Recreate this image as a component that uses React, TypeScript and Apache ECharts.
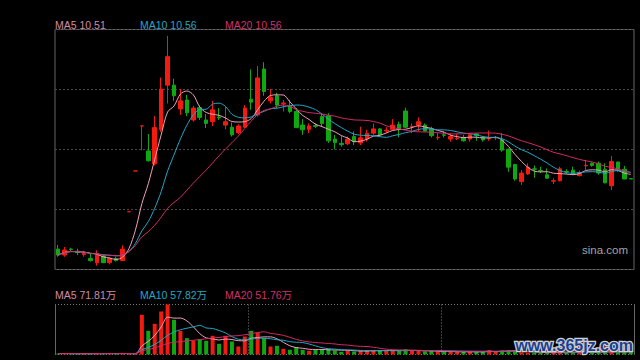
import React, { useEffect, useRef } from 'react';
import * as echarts from 'echarts';

// Daily prices (yuan)
const OPEN = [
  8.75, 8.61, 8.75, 8.70, 8.62, 8.53, 8.43, 8.59, 8.43, 8.53,
  8.48, 9.63, 10.59, 11.65, 11.06, 10.76, 11.56, 12.61, 12.61, 12.05,
  12.26, 11.79, 12.08, 11.79, 11.75, 11.86, 11.67, 11.62, 11.49, 11.62,
  12.28, 11.91, 12.99, 12.24, 12.36, 12.17, 12.12, 11.99, 11.67, 11.57,
  11.66, 11.87, 11.89, 11.34, 11.24, 11.23, 11.40, 11.25, 11.34, 11.48,
  11.58, 11.53, 11.57, 11.69, 12.00, 11.63, 11.67, 11.67, 11.57, 11.37,
  11.44, 11.34, 11.35, 11.38, 11.34, 11.46, 11.38, 11.35, 11.37, 11.32,
  11.10, 10.74, 10.34, 10.52, 10.64, 10.60, 10.50, 10.35, 10.36, 10.58,
  10.61, 10.48, 10.71, 10.77, 10.77, 10.63, 10.24, 10.80, 10.63, 10.41,
];
const CLOSE = [
  8.61, 8.73, 8.74, 8.67, 8.65, 8.48, 8.61, 8.43, 8.53, 8.48,
  8.75, 9.63, 10.59, 11.65, 10.83, 11.61, 12.52, 13.28, 12.36, 12.24,
  11.96, 12.07, 11.85, 11.71, 12.03, 11.84, 11.75, 11.44, 11.65, 12.07,
  12.21, 12.78, 12.46, 12.32, 12.14, 12.19, 11.99, 11.61, 11.56, 11.65,
  11.64, 11.71, 11.30, 11.26, 11.21, 11.34, 11.28, 11.37, 11.48, 11.58,
  11.44, 11.55, 11.67, 11.58, 11.62, 11.64, 11.75, 11.53, 11.42, 11.38,
  11.43, 11.40, 11.36, 11.30, 11.44, 11.42, 11.32, 11.36, 11.38, 11.08,
  10.68, 10.40, 10.54, 10.68, 10.63, 10.59, 10.42, 10.36, 10.64, 10.57,
  10.52, 10.55, 10.72, 10.72, 10.54, 10.31, 10.81, 10.63, 10.40, 10.40,
];
const HIGH = [
  8.85, 8.80, 8.78, 8.76, 8.71, 8.66, 8.72, 8.62, 8.56, 8.57,
  8.84, 9.63, 10.59, 11.65, 11.46, 11.88, 12.79, 13.77, 12.76, 12.52,
  12.38, 12.12, 12.13, 11.93, 12.24, 12.07, 12.10, 11.73, 11.69, 12.14,
  12.98, 13.06, 13.15, 12.52, 12.43, 12.26, 12.26, 12.07, 11.81, 11.71,
  11.71, 11.95, 11.95, 11.44, 11.41, 11.40, 11.52, 11.63, 11.56, 11.71,
  11.60, 11.62, 11.81, 11.75, 12.08, 11.71, 11.85, 11.71, 11.63, 11.49,
  11.52, 11.48, 11.46, 11.44, 11.48, 11.48, 11.41, 11.54, 11.41, 11.48,
  11.12, 10.76, 10.61, 10.77, 10.72, 10.69, 10.65, 10.42, 10.69, 10.63,
  10.69, 10.60, 10.85, 10.79, 10.81, 10.77, 10.94, 10.81, 10.71, 10.41,
];
const LOW = [
  8.57, 8.57, 8.71, 8.61, 8.57, 8.46, 8.36, 8.42, 8.39, 8.46,
  8.47, 9.63, 10.59, 11.08, 10.81, 10.72, 11.51, 12.18, 12.24, 11.91,
  11.88, 11.75, 11.79, 11.60, 11.65, 11.79, 11.57, 11.40, 11.46, 11.60,
  12.03, 11.87, 12.36, 12.18, 12.07, 11.99, 11.95, 11.60, 11.44, 11.48,
  11.60, 11.63, 11.25, 11.10, 11.16, 11.20, 11.20, 11.20, 11.28, 11.44,
  11.40, 11.49, 11.56, 11.38, 11.60, 11.48, 11.52, 11.52, 11.38, 11.32,
  11.38, 11.28, 11.32, 11.28, 11.28, 11.30, 11.28, 11.30, 11.32, 11.04,
  10.57, 10.36, 10.26, 10.50, 10.43, 10.54, 10.40, 10.28, 10.34, 10.52,
  10.50, 10.46, 10.61, 10.69, 10.50, 10.30, 10.14, 10.57, 10.40, 10.40,
];
// Daily volume, in 万 (10,000 shares)
const VOLUME = [
  18, 22, 15, 12, 14, 20, 26, 21, 16, 14,
  30, 8, 10, 794, 474, 614, 860, 1000, 694, 474,
  328, 280, 308, 274, 374, 214, 374, 260, 160, 360,
  474, 440, 328, 160, 174, 114, 94, 148, 94, 74,
  94, 94, 114, 80, 54, 74, 60, 80, 74, 80,
  80, 80, 90, 70, 100, 70, 70, 60, 70, 50,
  50, 60, 50, 50, 60, 50, 50, 90, 50, 80,
  80, 65, 45, 40, 38, 30, 42, 35, 45, 37,
  40, 38, 45, 42, 54.2, 70, 110, 60, 65, 54,
];
const DAYS = OPEN.map((_, i) => 'D' + (i + 1));

const PRICE_LEGEND = ['MA5 10.51', 'MA10 10.56', 'MA20 10.56'];
const VOLUME_LEGEND = ['MA5 71.81万', 'MA10 57.82万', 'MA20 51.76万'];
const MA_PERIODS = [5, 10, 20];

const MA_LINE_COLORS = ['#f0a2bd', '#1ea8c6', '#d42a68'];
const MA_TEXT_COLORS = ['#d48aa2', '#26a6c4', '#d42e6a'];
const UP = '#f51a0f';
const DOWN = '#10a810';

function movingAverage(values: number[], n: number): number[] {
  return values.map((_, i) => {
    const s = Math.max(0, i - n + 1);
    let sum = 0;
    for (let j = s; j <= i; j++) sum += values[j];
    return +(sum / (i - s + 1)).toFixed(3);
  });
}

function isUp(i: number): boolean {
  if (CLOSE[i] > OPEN[i]) return true;
  if (CLOSE[i] < OPEN[i]) return false;
  return i === 0 ? true : CLOSE[i] >= CLOSE[i - 1];
}

export default function App() {
  const ref = useRef<HTMLDivElement>(null);

  useEffect(() => {
    if (!ref.current) return;
    const chart = echarts.init(ref.current, undefined, { renderer: 'svg' });

    const candles = OPEN.map((o, i) => [o, CLOSE[i], LOW[i], HIGH[i]]);
    const volumes = VOLUME.map((v, i) => ({
      value: v,
      itemStyle: { color: isUp(i) ? UP : DOWN },
    }));

    const hidden = {
      axisLine: { show: false },
      axisTick: { show: false },
      axisLabel: { show: false },
    };

    const legendTexts: any[] = [];
    const xs = [55, 140, 225];
    PRICE_LEGEND.forEach((t, k) => {
      legendTexts.push({
        type: 'text',
        x: xs[k],
        y: 24.5,
        silent: true,
        style: {
          text: t,
          fill: MA_TEXT_COLORS[k],
          font: '10.5px Arial, "Liberation Sans", sans-serif',
          textVerticalAlign: 'middle',
        },
      });
    });
    VOLUME_LEGEND.forEach((t, k) => {
      legendTexts.push({
        type: 'text',
        x: xs[k],
        y: 294.5,
        silent: true,
        style: {
          text: t,
          fill: MA_TEXT_COLORS[k],
          font: '10.5px Arial, "Liberation Sans", "Noto Sans CJK SC", sans-serif',
          textVerticalAlign: 'middle',
        },
      });
    });
    legendTexts.push({
      type: 'text',
      x: 582,
      y: 249.5,
      silent: true,
      style: {
        text: 'sina.com',
        fill: '#a4a4a4',
        font: '11.5px Arial, "Liberation Sans", sans-serif',
        textVerticalAlign: 'middle',
      },
    });
    legendTexts.push({
      type: 'text',
      x: 633,
      y: 345,
      silent: true,
      z: 100,
      style: {
        text: 'www.365jz.com',
        fill: '#1d3f90',
        stroke: '#d0d0d0',
        lineWidth: 2.5,
        font: 'bold 16px Arial, "Liberation Sans", sans-serif',
        textAlign: 'right',
        textVerticalAlign: 'middle',
      },
    });

    const series: any[] = [
      {
        type: 'candlestick',
        xAxisIndex: 0,
        yAxisIndex: 0,
        data: candles,
        barWidth: 4,
        itemStyle: {
          color: UP,
          color0: DOWN,
          borderColor: UP,
          borderColor0: DOWN,
          borderWidth: 1,
        },
      },
      ...MA_PERIODS.map((n, k) => ({
        type: 'line',
        xAxisIndex: 0,
        yAxisIndex: 0,
        data: movingAverage(CLOSE, n),
        symbol: 'none',
        smooth: 0.3,
        lineStyle: { width: 1, color: MA_LINE_COLORS[k] },
        z: 3,
      })),
      {
        type: 'bar',
        xAxisIndex: 1,
        yAxisIndex: 2,
        data: volumes,
        barWidth: 4,
      },
      ...MA_PERIODS.map((n, k) => ({
        type: 'line',
        xAxisIndex: 1,
        yAxisIndex: 2,
        data: movingAverage(VOLUME, n),
        symbol: 'none',
        smooth: 0.3,
        lineStyle: { width: 1, color: MA_LINE_COLORS[k] },
        z: 3,
      })),
    ];

    chart.setOption({
      animation: false,
      backgroundColor: '#000',
      grid: [
        {
          left: 55, top: 29.5, width: 579, height: 240,
          show: true, borderColor: '#666', borderWidth: 1, backgroundColor: 'transparent',
        },
        { left: 55, top: 304.5, width: 579, height: 50, show: false },
      ],
      xAxis: [
        {
          type: 'category', gridIndex: 0, data: DAYS, boundaryGap: true,
          ...hidden, splitLine: { show: false },
        },
        {
          type: 'category', gridIndex: 1, data: DAYS, boundaryGap: true,
          ...hidden,
          splitLine: {
            show: true,
            interval: (i: number) => i === 30 || i === 60,
            lineStyle: { color: '#7a7a7a', type: [1, 2], width: 1 },
          },
        },
      ],
      yAxis: [
        { type: 'value', gridIndex: 0, min: 8.27, max: 13.92, show: false, splitLine: { show: false } },
        {
          type: 'value', gridIndex: 0, min: 0, max: 4, interval: 1, ...hidden,
          splitLine: { show: true, lineStyle: { color: '#4a4a4a', type: [2, 2], width: 1 } },
        },
        { type: 'value', gridIndex: 1, min: 0, max: 1000, show: false, splitLine: { show: false } },
        {
          type: 'value', gridIndex: 1, min: 0, max: 1, interval: 1, position: 'left',
          axisLine: { show: true, lineStyle: { color: '#666', width: 1 } },
          axisTick: { show: false }, axisLabel: { show: false },
          splitLine: { show: true, lineStyle: { color: '#7a7a7a', type: [1, 2], width: 1 } },
        },
        {
          type: 'value', gridIndex: 1, min: 0, max: 1, interval: 1, position: 'right',
          axisLine: { show: true, lineStyle: { color: '#666', width: 1 } },
          axisTick: { show: false }, axisLabel: { show: false },
          splitLine: { show: false },
        },
      ],
      graphic: legendTexts,
      series,
    });

    return () => chart.dispose();
  }, []);

  return (
    <div
      ref={ref}
      style={{ position: 'fixed', left: 0, top: 0, width: 640, height: 360, background: '#000' }}
    />
  );
}
